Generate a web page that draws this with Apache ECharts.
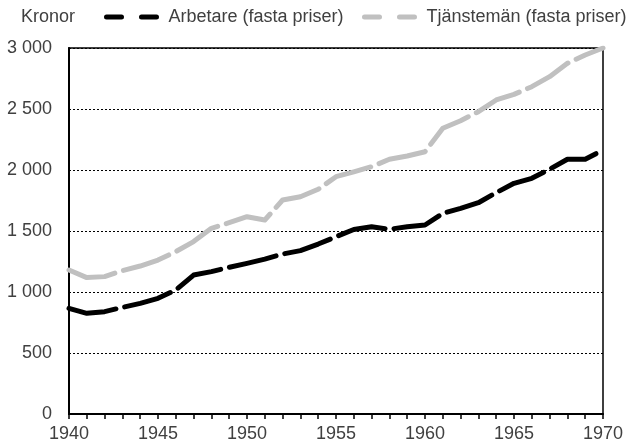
<!DOCTYPE html>
<html>
<head>
<meta charset="utf-8">
<script src="https://cdn.jsdelivr.net/npm/echarts@6/dist/echarts.min.js"></script>
<style>html,body{margin:0;padding:0;background:#fff}#c{width:627px;height:447px}</style>
</head>
<body>
<div id="c"></div>
<script>
const years = [1940,1941,1942,1943,1944,1945,1946,1947,1948,1949,1950,1951,1952,1953,1954,1955,1956,1957,1958,1959,1960,1961,1962,1963,1964,1965,1966,1967,1968,1969,1970];
const arbetare = [866,825,839,874,907,948,1016,1139,1167,1202,1235,1270,1311,1339,1393,1453,1512,1535,1514,1535,1549,1645,1686,1732,1814,1891,1932,2006,2088,2088,2164];
const tjansteman = [1180,1118,1126,1175,1213,1262,1331,1413,1522,1568,1617,1590,1754,1781,1842,1945,1985,2027,2088,2115,2150,2342,2404,2478,2574,2620,2683,2765,2874,2943,3000];
const seriesNames = ['Arbetare (fasta priser)', 'Tjänstemän (fasta priser)'];
const unitLabel = 'Kronor';

const FONT = '"Liberation Sans", Arial, sans-serif';
const TXT = '#404040';
const chart = echarts.init(document.getElementById('c'), null, {renderer: 'canvas'});
const pairs = arr => years.map((y, i) => [y, arr[i]]);

const legendBase = {
  padding: 0, itemWidth: 50, itemHeight: 14, top: 8,
  lineStyle: {type: [15, 20], width: 5, cap: 'round'},
  itemStyle: {color: 'transparent', borderColor: 'transparent', borderWidth: 0, opacity: 0},
  textStyle: {fontSize: 18, color: TXT, fontFamily: FONT, padding: [0, 0, 0, 7]}
};

chart.setOption({
  animation: false,
  backgroundColor: '#fff',
  textStyle: {fontFamily: FONT},
  graphic: [{
    type: 'text', left: 21, top: 8,
    style: {text: unitLabel, fontSize: 18, fontFamily: FONT, fill: TXT}
  }],
  legend: [
    Object.assign({}, legendBase, {data: [seriesNames[0]], left: 104}),
    Object.assign({}, legendBase, {data: [seriesNames[1]], left: 362})
  ],
  grid: {left: 69, right: 24, top: 48, bottom: 33, show: true, borderColor: '#000', borderWidth: 1.5, containLabel: false},
  xAxis: {
    type: 'value', min: 1940, max: 1970, interval: 5,
    axisLine: {lineStyle: {color: '#000', width: 2}},
    axisTick: {show: true, length: 5, lineStyle: {color: '#000', width: 1.5}},
    minorTick: {show: true, splitNumber: 5, length: 5, lineStyle: {color: '#000', width: 1.5}},
    splitLine: {show: false},
    axisLabel: {fontSize: 18, color: TXT, fontFamily: FONT, margin: 11, formatter: v => String(v)}
  },
  yAxis: {
    type: 'value', min: 0, max: 3000, interval: 500,
    axisLine: {show: true, lineStyle: {color: '#000', width: 2}},
    axisTick: {show: false},
    splitLine: {lineStyle: {color: '#000', width: 1, type: [2, 2]}},
    axisLabel: {fontSize: 18, color: TXT, fontFamily: FONT, margin: 17, padding: [4, 0, 0, 0],
      formatter: v => String(v).replace(/\B(?=(\d{3})+(?!\d))/g, ' ')}
  },
  series: [
    {name: seriesNames[0], type: 'line', data: pairs(arbetare), showSymbol: false, symbol: 'none',
     itemStyle: {color: '#000'},
     lineStyle: {color: '#000', width: 5, type: [48, 9], cap: 'round', join: 'round'}},
    {name: seriesNames[1], type: 'line', data: pairs(tjansteman), showSymbol: false, symbol: 'none',
     itemStyle: {color: '#c0c0c0'},
     lineStyle: {color: '#c0c0c0', width: 5, type: [48, 9], cap: 'round', join: 'round'}}
  ]
});
</script>
</body>
</html>
